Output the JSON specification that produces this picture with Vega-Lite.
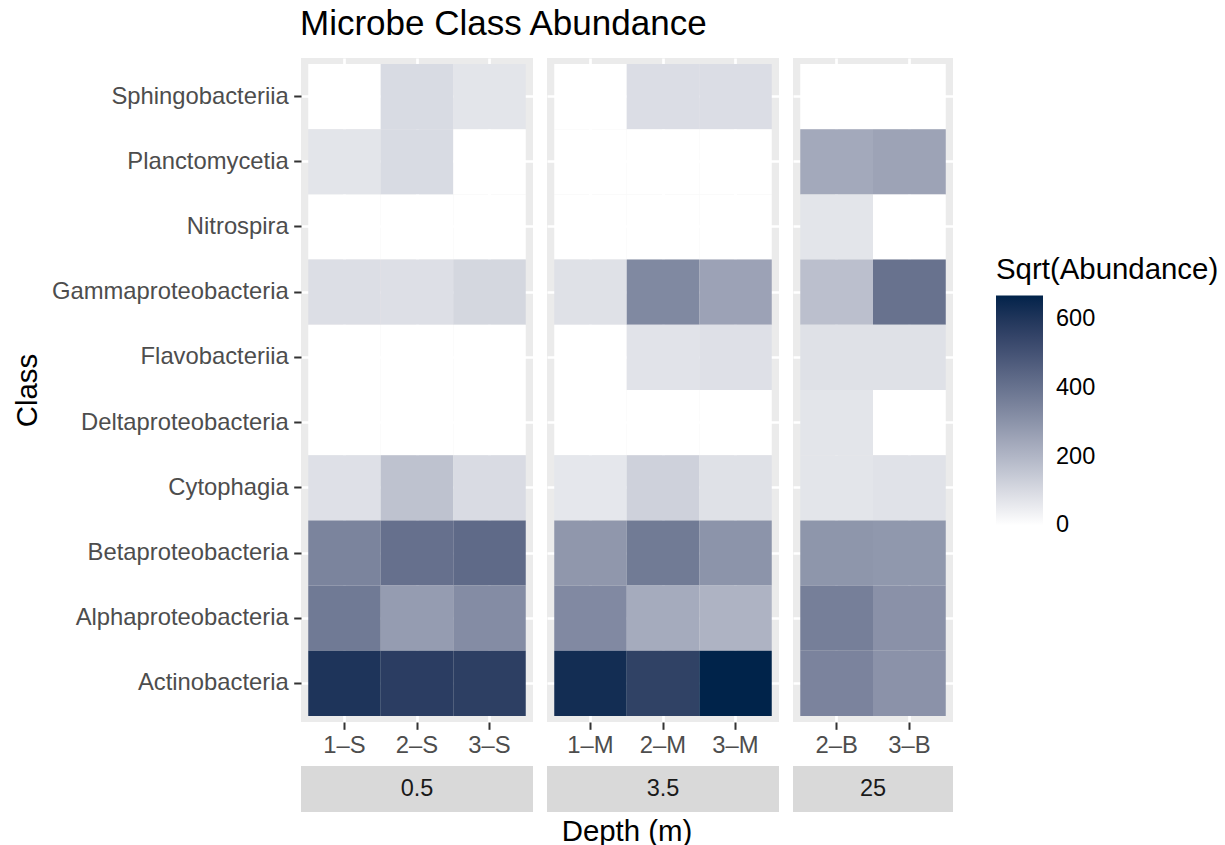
{
  "$schema": "https://vega.github.io/schema/vega-lite/v6.json",
  "background": "#FFFFFF",
  "padding": {"left": 12, "top": 7, "right": 0, "bottom": 0},
  "title": {
    "text": "Microbe Class Abundance",
    "anchor": "start",
    "dx": 288,
    "fontSize": 35,
    "fontWeight": "normal",
    "color": "#000000",
    "offset": 16
  },
  "datasets": {
    "abundance": [
      {"Depth": "0.5", "Sample": "1–S", "Class": "Sphingobacteriia", "SqrtAbundance": 0},
      {"Depth": "0.5", "Sample": "1–S", "Class": "Planctomycetia", "SqrtAbundance": 71},
      {"Depth": "0.5", "Sample": "1–S", "Class": "Nitrospira", "SqrtAbundance": 0},
      {"Depth": "0.5", "Sample": "1–S", "Class": "Gammaproteobacteria", "SqrtAbundance": 89},
      {"Depth": "0.5", "Sample": "1–S", "Class": "Flavobacteriia", "SqrtAbundance": 0},
      {"Depth": "0.5", "Sample": "1–S", "Class": "Deltaproteobacteria", "SqrtAbundance": 0},
      {"Depth": "0.5", "Sample": "1–S", "Class": "Cytophagia", "SqrtAbundance": 84},
      {"Depth": "0.5", "Sample": "1–S", "Class": "Betaproteobacteria", "SqrtAbundance": 347},
      {"Depth": "0.5", "Sample": "1–S", "Class": "Alphaproteobacteria", "SqrtAbundance": 378},
      {"Depth": "0.5", "Sample": "1–S", "Class": "Actinobacteria", "SqrtAbundance": 607},
      {"Depth": "0.5", "Sample": "2–S", "Class": "Sphingobacteriia", "SqrtAbundance": 98},
      {"Depth": "0.5", "Sample": "2–S", "Class": "Planctomycetia", "SqrtAbundance": 98},
      {"Depth": "0.5", "Sample": "2–S", "Class": "Nitrospira", "SqrtAbundance": 0},
      {"Depth": "0.5", "Sample": "2–S", "Class": "Gammaproteobacteria", "SqrtAbundance": 87},
      {"Depth": "0.5", "Sample": "2–S", "Class": "Flavobacteriia", "SqrtAbundance": 0},
      {"Depth": "0.5", "Sample": "2–S", "Class": "Deltaproteobacteria", "SqrtAbundance": 0},
      {"Depth": "0.5", "Sample": "2–S", "Class": "Cytophagia", "SqrtAbundance": 168},
      {"Depth": "0.5", "Sample": "2–S", "Class": "Betaproteobacteria", "SqrtAbundance": 408},
      {"Depth": "0.5", "Sample": "2–S", "Class": "Alphaproteobacteria", "SqrtAbundance": 276},
      {"Depth": "0.5", "Sample": "2–S", "Class": "Actinobacteria", "SqrtAbundance": 575},
      {"Depth": "0.5", "Sample": "3–S", "Class": "Sphingobacteriia", "SqrtAbundance": 71},
      {"Depth": "0.5", "Sample": "3–S", "Class": "Planctomycetia", "SqrtAbundance": 0},
      {"Depth": "0.5", "Sample": "3–S", "Class": "Nitrospira", "SqrtAbundance": 0},
      {"Depth": "0.5", "Sample": "3–S", "Class": "Gammaproteobacteria", "SqrtAbundance": 109},
      {"Depth": "0.5", "Sample": "3–S", "Class": "Flavobacteriia", "SqrtAbundance": 0},
      {"Depth": "0.5", "Sample": "3–S", "Class": "Deltaproteobacteria", "SqrtAbundance": 0},
      {"Depth": "0.5", "Sample": "3–S", "Class": "Cytophagia", "SqrtAbundance": 97},
      {"Depth": "0.5", "Sample": "3–S", "Class": "Betaproteobacteria", "SqrtAbundance": 427},
      {"Depth": "0.5", "Sample": "3–S", "Class": "Alphaproteobacteria", "SqrtAbundance": 322},
      {"Depth": "0.5", "Sample": "3–S", "Class": "Actinobacteria", "SqrtAbundance": 569},
      {"Depth": "3.5", "Sample": "1–M", "Class": "Sphingobacteriia", "SqrtAbundance": 0},
      {"Depth": "3.5", "Sample": "1–M", "Class": "Planctomycetia", "SqrtAbundance": 0},
      {"Depth": "3.5", "Sample": "1–M", "Class": "Nitrospira", "SqrtAbundance": 0},
      {"Depth": "3.5", "Sample": "1–M", "Class": "Gammaproteobacteria", "SqrtAbundance": 82},
      {"Depth": "3.5", "Sample": "1–M", "Class": "Flavobacteriia", "SqrtAbundance": 0},
      {"Depth": "3.5", "Sample": "1–M", "Class": "Deltaproteobacteria", "SqrtAbundance": 0},
      {"Depth": "3.5", "Sample": "1–M", "Class": "Cytophagia", "SqrtAbundance": 66},
      {"Depth": "3.5", "Sample": "1–M", "Class": "Betaproteobacteria", "SqrtAbundance": 291},
      {"Depth": "3.5", "Sample": "1–M", "Class": "Alphaproteobacteria", "SqrtAbundance": 331},
      {"Depth": "3.5", "Sample": "1–M", "Class": "Actinobacteria", "SqrtAbundance": 633},
      {"Depth": "3.5", "Sample": "2–M", "Class": "Sphingobacteriia", "SqrtAbundance": 91},
      {"Depth": "3.5", "Sample": "2–M", "Class": "Planctomycetia", "SqrtAbundance": 0},
      {"Depth": "3.5", "Sample": "2–M", "Class": "Nitrospira", "SqrtAbundance": 0},
      {"Depth": "3.5", "Sample": "2–M", "Class": "Gammaproteobacteria", "SqrtAbundance": 333},
      {"Depth": "3.5", "Sample": "2–M", "Class": "Flavobacteriia", "SqrtAbundance": 76},
      {"Depth": "3.5", "Sample": "2–M", "Class": "Deltaproteobacteria", "SqrtAbundance": 0},
      {"Depth": "3.5", "Sample": "2–M", "Class": "Cytophagia", "SqrtAbundance": 125},
      {"Depth": "3.5", "Sample": "2–M", "Class": "Betaproteobacteria", "SqrtAbundance": 376},
      {"Depth": "3.5", "Sample": "2–M", "Class": "Alphaproteobacteria", "SqrtAbundance": 232},
      {"Depth": "3.5", "Sample": "2–M", "Class": "Actinobacteria", "SqrtAbundance": 560},
      {"Depth": "3.5", "Sample": "3–M", "Class": "Sphingobacteriia", "SqrtAbundance": 91},
      {"Depth": "3.5", "Sample": "3–M", "Class": "Planctomycetia", "SqrtAbundance": 0},
      {"Depth": "3.5", "Sample": "3–M", "Class": "Nitrospira", "SqrtAbundance": 0},
      {"Depth": "3.5", "Sample": "3–M", "Class": "Gammaproteobacteria", "SqrtAbundance": 257},
      {"Depth": "3.5", "Sample": "3–M", "Class": "Flavobacteriia", "SqrtAbundance": 84},
      {"Depth": "3.5", "Sample": "3–M", "Class": "Deltaproteobacteria", "SqrtAbundance": 0},
      {"Depth": "3.5", "Sample": "3–M", "Class": "Cytophagia", "SqrtAbundance": 82},
      {"Depth": "3.5", "Sample": "3–M", "Class": "Betaproteobacteria", "SqrtAbundance": 300},
      {"Depth": "3.5", "Sample": "3–M", "Class": "Alphaproteobacteria", "SqrtAbundance": 210},
      {"Depth": "3.5", "Sample": "3–M", "Class": "Actinobacteria", "SqrtAbundance": 670},
      {"Depth": "25", "Sample": "2–B", "Class": "Sphingobacteriia", "SqrtAbundance": 0},
      {"Depth": "25", "Sample": "2–B", "Class": "Planctomycetia", "SqrtAbundance": 238},
      {"Depth": "25", "Sample": "2–B", "Class": "Nitrospira", "SqrtAbundance": 71},
      {"Depth": "25", "Sample": "2–B", "Class": "Gammaproteobacteria", "SqrtAbundance": 174},
      {"Depth": "25", "Sample": "2–B", "Class": "Flavobacteriia", "SqrtAbundance": 82},
      {"Depth": "25", "Sample": "2–B", "Class": "Deltaproteobacteria", "SqrtAbundance": 71},
      {"Depth": "25", "Sample": "2–B", "Class": "Cytophagia", "SqrtAbundance": 71},
      {"Depth": "25", "Sample": "2–B", "Class": "Betaproteobacteria", "SqrtAbundance": 295},
      {"Depth": "25", "Sample": "2–B", "Class": "Alphaproteobacteria", "SqrtAbundance": 361},
      {"Depth": "25", "Sample": "2–B", "Class": "Actinobacteria", "SqrtAbundance": 349},
      {"Depth": "25", "Sample": "3–B", "Class": "Sphingobacteriia", "SqrtAbundance": 0},
      {"Depth": "25", "Sample": "3–B", "Class": "Planctomycetia", "SqrtAbundance": 256},
      {"Depth": "25", "Sample": "3–B", "Class": "Nitrospira", "SqrtAbundance": 0},
      {"Depth": "25", "Sample": "3–B", "Class": "Gammaproteobacteria", "SqrtAbundance": 402},
      {"Depth": "25", "Sample": "3–B", "Class": "Flavobacteriia", "SqrtAbundance": 82},
      {"Depth": "25", "Sample": "3–B", "Class": "Deltaproteobacteria", "SqrtAbundance": 0},
      {"Depth": "25", "Sample": "3–B", "Class": "Cytophagia", "SqrtAbundance": 79},
      {"Depth": "25", "Sample": "3–B", "Class": "Betaproteobacteria", "SqrtAbundance": 289},
      {"Depth": "25", "Sample": "3–B", "Class": "Alphaproteobacteria", "SqrtAbundance": 307},
      {"Depth": "25", "Sample": "3–B", "Class": "Actinobacteria", "SqrtAbundance": 304}
    ]
  },
  "hconcat": [
    {
      "vconcat": [
        {
          "width": 232,
          "height": 664,
          "view": {"fill": "#EBEBEB", "stroke": null},
          "data": {"name": "abundance"},
          "transform": [{"filter": "datum.Depth === '0.5'"}],
          "mark": {"type": "rect"},
          "encoding": {
            "x": {"field": "Sample", "type": "nominal", "scale": {"paddingInner": 0, "paddingOuter": 0.1}, "axis": {"title": null, "labelAngle": 0}},
            "y": {
              "field": "Class", "type": "nominal",
              "sort": ["Sphingobacteriia", "Planctomycetia", "Nitrospira", "Gammaproteobacteria", "Flavobacteriia", "Deltaproteobacteria", "Cytophagia", "Betaproteobacteria", "Alphaproteobacteria", "Actinobacteria"],
              "scale": {"paddingInner": 0, "paddingOuter": 0.092},
              "axis": {"title": "Class", "labelPadding": 5.5, "titleX": -259, "titleAnchor": "middle"}
            },
            "color": {
              "field": "SqrtAbundance", "type": "quantitative", "title": "Sqrt(Abundance)",
              "scale": {"domain": [0, 670], "range": ["#FFFFFF", "#00234A"], "interpolate": "lab"},
              "legend": {"labelOffset": 13, "encode": {"labels": {"update": {"baseline": {"value": "middle"}}}}}
            }
          }
        },
        {
          "width": 232,
          "height": 46,
          "view": {"fill": "#D9D9D9", "stroke": null},
          "data": {"name": "abundance"},
          "transform": [{"filter": "datum.Depth === '0.5'"}, {"aggregate": [{"op": "count", "as": "n"}], "groupby": ["Depth"]}],
          "mark": {"type": "text", "fontSize": 23.5, "color": "#1A1A1A"},
          "encoding": {"text": {"field": "Depth", "type": "nominal"}}
        }
      ]
    },
    {
      "vconcat": [
        {
          "width": 232,
          "height": 664,
          "view": {"fill": "#EBEBEB", "stroke": null},
          "data": {"name": "abundance"},
          "transform": [{"filter": "datum.Depth === '3.5'"}],
          "mark": {"type": "rect"},
          "encoding": {
            "x": {"field": "Sample", "type": "nominal", "scale": {"paddingInner": 0, "paddingOuter": 0.1}, "axis": {"title": null, "labelAngle": 0}},
            "y": {
              "field": "Class", "type": "nominal",
              "sort": ["Sphingobacteriia", "Planctomycetia", "Nitrospira", "Gammaproteobacteria", "Flavobacteriia", "Deltaproteobacteria", "Cytophagia", "Betaproteobacteria", "Alphaproteobacteria", "Actinobacteria"],
              "scale": {"paddingInner": 0, "paddingOuter": 0.092},
              "axis": {"title": null, "labels": false, "ticks": false}
            },
            "color": {
              "field": "SqrtAbundance", "type": "quantitative", "title": "Sqrt(Abundance)",
              "scale": {"domain": [0, 670], "range": ["#FFFFFF", "#00234A"], "interpolate": "lab"},
              "legend": {"labelOffset": 13, "encode": {"labels": {"update": {"baseline": {"value": "middle"}}}}}
            }
          }
        },
        {
          "width": 232,
          "height": 46,
          "view": {"fill": "#D9D9D9", "stroke": null},
          "title": {"text": "Depth (m)", "orient": "bottom", "anchor": "middle", "dx": -36, "offset": 6, "fontSize": 29.4, "fontWeight": "normal", "color": "#000000"},
          "data": {"name": "abundance"},
          "transform": [{"filter": "datum.Depth === '3.5'"}, {"aggregate": [{"op": "count", "as": "n"}], "groupby": ["Depth"]}],
          "mark": {"type": "text", "fontSize": 23.5, "color": "#1A1A1A"},
          "encoding": {"text": {"field": "Depth", "type": "nominal"}}
        }
      ]
    },
    {
      "vconcat": [
        {
          "width": 160,
          "height": 664,
          "view": {"fill": "#EBEBEB", "stroke": null},
          "data": {"name": "abundance"},
          "transform": [{"filter": "datum.Depth === '25'"}],
          "mark": {"type": "rect"},
          "encoding": {
            "x": {"field": "Sample", "type": "nominal", "scale": {"paddingInner": 0, "paddingOuter": 0.1}, "axis": {"title": null, "labelAngle": 0}},
            "y": {
              "field": "Class", "type": "nominal",
              "sort": ["Sphingobacteriia", "Planctomycetia", "Nitrospira", "Gammaproteobacteria", "Flavobacteriia", "Deltaproteobacteria", "Cytophagia", "Betaproteobacteria", "Alphaproteobacteria", "Actinobacteria"],
              "scale": {"paddingInner": 0, "paddingOuter": 0.092},
              "axis": {"title": null, "labels": false, "ticks": false}
            },
            "color": {
              "field": "SqrtAbundance", "type": "quantitative", "title": "Sqrt(Abundance)",
              "scale": {"domain": [0, 670], "range": ["#FFFFFF", "#00234A"], "interpolate": "lab"},
              "legend": {"labelOffset": 13, "encode": {"labels": {"update": {"baseline": {"value": "middle"}}}}}
            }
          }
        },
        {
          "width": 160,
          "height": 46,
          "view": {"fill": "#D9D9D9", "stroke": null},
          "data": {"name": "abundance"},
          "transform": [{"filter": "datum.Depth === '25'"}, {"aggregate": [{"op": "count", "as": "n"}], "groupby": ["Depth"]}],
          "mark": {"type": "text", "fontSize": 23.5, "color": "#1A1A1A"},
          "encoding": {"text": {"field": "Depth", "type": "nominal"}}
        }
      ]
    }
  ],
  "spacing": 14,
  "resolve": {"scale": {"color": "shared"}},
  "config": {
    "font": "Liberation Sans",
    "concat": {"spacing": 8},
    "axis": {
      "zindex": 0,
      "domain": false,
      "grid": true,
      "gridColor": "#FFFFFF",
      "gridWidth": 2.7,
      "tickColor": "#333333",
      "tickWidth": 2,
      "tickSize": 7.3,
      "labelFontSize": 23.8,
      "labelColor": "#4D4D4D",
      "labelPadding": 4,
      "labelLimit": 400,
      "titleFontSize": 29.4,
      "titleFontWeight": "normal",
      "titleColor": "#000000"
    },
    "legend": {
      "orient": "none",
      "legendX": 695,
      "legendY": 198,
      "values": [0, 200, 400, 600],
      "gradientLength": 230,
      "gradientThickness": 47,
      "gradientStrokeWidth": 0,
      "titleFontSize": 29.4,
      "titleFontWeight": "normal",
      "titleColor": "#000000",
      "titlePadding": 10,
      "titleLimit": 400,
      "labelFontSize": 23.5,
      "labelColor": "#000000",
      "labelOffset": 13,
      "labelLimit": 400
    }
  }
}
